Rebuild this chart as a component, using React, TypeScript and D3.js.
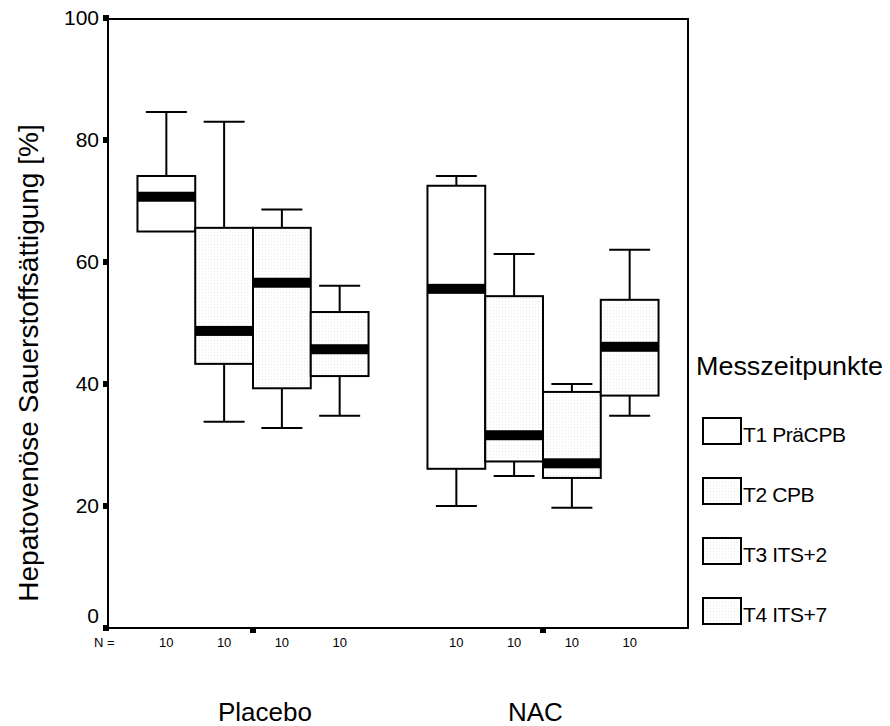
import React from 'react';
import * as d3 from 'd3';

// groups on the x axis and the four measuring times inside each
const groups = ['Placebo', 'NAC'];
const times = ['T1 PräCPB', 'T2 CPB', 'T3 ITS+2', 'T4 ITS+7'];
const counts = [10, 10, 10, 10];

// box statistics, one row per group, one entry per time
const lowWhisker = [[65.0, 33.8, 32.8, 34.8], [20.0, 24.9, 19.7, 34.8]];
const q1 = [[65.0, 43.3, 39.3, 41.3], [26.1, 27.3, 24.6, 38.1]];
const medians = [[70.7, 48.7, 56.6, 45.7], [55.6, 31.6, 27.0, 46.1]];
const q3 = [[74.1, 65.6, 65.6, 51.8], [72.5, 54.4, 38.7, 53.8]];
const highWhisker = [[84.6, 83.0, 68.6, 56.1], [74.1, 61.3, 40.0, 62.0]];

const yTicks = [0, 20, 40, 60, 80, 100];

const font = 'Arial, "Liberation Sans", sans-serif';

export default function App() {
  const left = 108, right = 688, top = 18, bottom = 628;

  const y = d3.scaleLinear().domain([0, 100]).range([bottom, top]);
  const x = d3.scaleBand().domain(groups).range([left, right]);
  const inner = d3.scaleBand().domain(times).range([0, x.bandwidth()]).paddingOuter(0.51);
  const boxW = inner.bandwidth();
  const capW = 41;

  const fills = ['#fff', 'url(#dots)', 'url(#dots)', 'url(#dots)'];

  return (
    <svg width={890} height={726} style={{ position: 'absolute', left: 0, top: 0 }} fontFamily={font}>
      <defs>
        <pattern id="dots" width={3} height={3} patternUnits="userSpaceOnUse">
          <rect width={3} height={3} fill="#fff" />
          <rect x={1} y={1} width={1} height={1} fill="#ebebeb" />
        </pattern>
      </defs>
      <rect x={0} y={0} width={890} height={726} fill="#fff" />

      {/* frame */}
      <rect x={left} y={top + 1} width={right - left} height={bottom - top - 1} fill="none" stroke="#000" strokeWidth={2} />

      {/* boxes */}
      {groups.map((g, gi) => (
        <g key={g}>
          {times.map((t, ti) => {
            const x0 = (x(g) ?? 0) + (inner(t) ?? 0);
            const cx = x0 + boxW / 2;
            return (
              <g key={t}>
                {highWhisker[gi][ti] > q3[gi][ti] && (
                  <>
                    <line x1={cx} x2={cx} y1={y(q3[gi][ti])} y2={y(highWhisker[gi][ti])} stroke="#000" strokeWidth={2} />
                    <line x1={cx - capW / 2} x2={cx + capW / 2} y1={y(highWhisker[gi][ti])} y2={y(highWhisker[gi][ti])} stroke="#000" strokeWidth={2} />
                  </>
                )}
                {lowWhisker[gi][ti] < q1[gi][ti] && (
                  <>
                    <line x1={cx} x2={cx} y1={y(q1[gi][ti])} y2={y(lowWhisker[gi][ti])} stroke="#000" strokeWidth={2} />
                    <line x1={cx - capW / 2} x2={cx + capW / 2} y1={y(lowWhisker[gi][ti])} y2={y(lowWhisker[gi][ti])} stroke="#000" strokeWidth={2} />
                  </>
                )}
                <rect x={x0} y={y(q3[gi][ti])} width={boxW} height={y(q1[gi][ti]) - y(q3[gi][ti])}
                  fill={fills[ti]} stroke="#000" strokeWidth={2} />
                <rect x={x0} y={y(medians[gi][ti]) - 5} width={boxW} height={10} fill="#000" />
              </g>
            );
          })}
        </g>
      ))}

      {/* y axis ticks; the 0 label sits above its tick */}
      {yTicks.map(v => (
        <g key={v}>
          <rect x={left - 5} y={y(v) - 3} width={6} height={6} fill="#000" />
          <text x={left - 9} y={y(v) + (v === 0 ? -5 : 7)} fontSize={21} textAnchor="end" fill="#000">{v}</text>
        </g>
      ))}

      {/* x axis group ticks */}
      {groups.map(g => (
        <rect key={g} x={(x(g) ?? 0) + x.bandwidth() / 2 - 3} y={bottom} width={6} height={5} fill="#000" />
      ))}

      {/* N row */}
      <text x={94} y={647} fontSize={13} fill="#000">N =</text>
      {groups.map(g => times.map((t, ti) => (
        <text key={g + t} x={(x(g) ?? 0) + (inner(t) ?? 0) + boxW / 2} y={647} fontSize={13} textAnchor="middle" fill="#000">
          {counts[ti]}
        </text>
      )))}

      {/* group labels, left-aligned a little before the group tick */}
      {groups.map(g => (
        <text key={g} x={(x(g) ?? 0) + x.bandwidth() / 2 - 35} y={721} fontSize={26} fill="#000">{g}</text>
      ))}

      {/* y axis title */}
      <text transform="translate(38, 363) rotate(-90)" fontSize={28} textAnchor="middle" fill="#000">
        Hepatovenöse Sauerstoffsättigung [%]
      </text>

      {/* legend */}
      <text x={696} y={375} fontSize={25} textLength={187} lengthAdjust="spacingAndGlyphs" fill="#000">Messzeitpunkte</text>
      {times.map((t, ti) => (
        <g key={t} transform={`translate(703, ${418 + ti * 60})`}>
          <rect x={0} y={0} width={38} height={26} fill={fills[ti]} stroke="#000" strokeWidth={2} />
          <text x={40} y={24} fontSize={21} fill="#000" letterSpacing={-0.4}>{t}</text>
        </g>
      ))}
    </svg>
  );
}
